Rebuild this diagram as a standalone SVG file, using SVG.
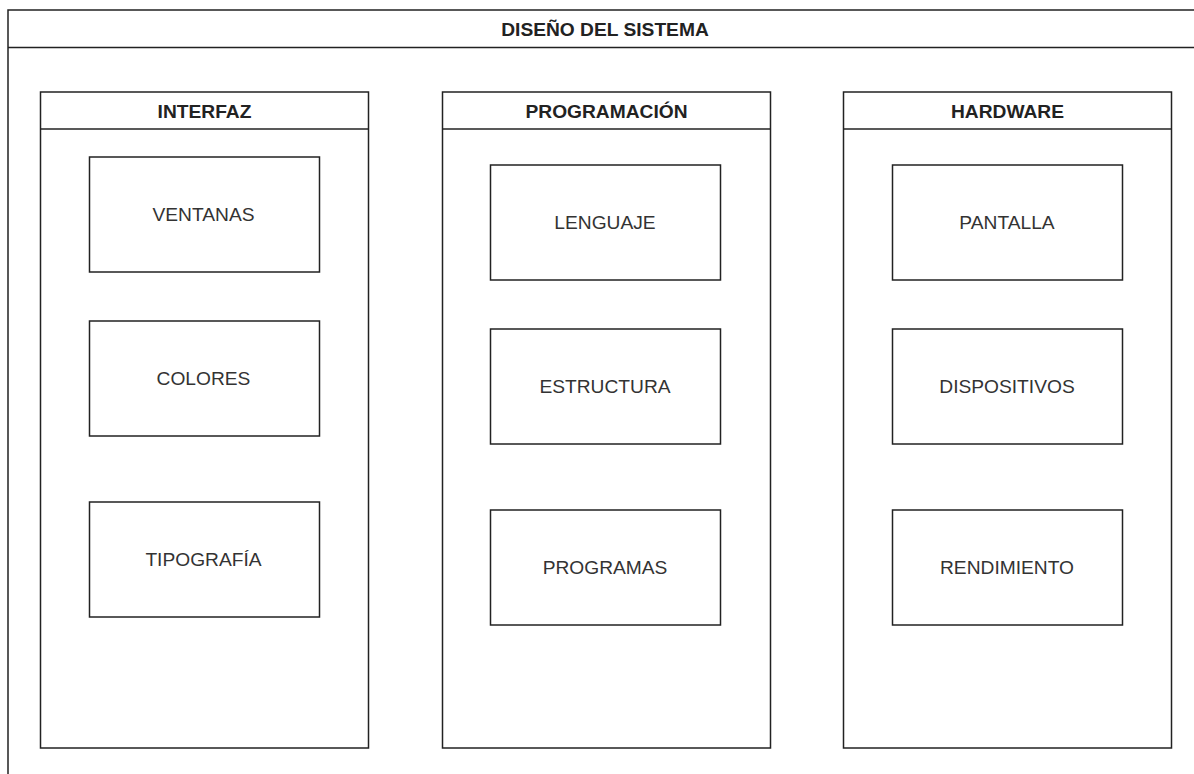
<svg xmlns="http://www.w3.org/2000/svg" width="1194" height="774" viewBox="0 0 1194 774">
<style>
.frame{fill:#ffffff;stroke:#222222;stroke-width:1.5}
.line{stroke:#222222;stroke-width:1.5;fill:none}
.box{fill:#ffffff;stroke:#222222;stroke-width:1.5}
.title{font-family:"Liberation Sans",Arial,sans-serif;font-size:19.2px;font-weight:bold;fill:#222222;text-anchor:middle}
.label{font-family:"Liberation Sans",Arial,sans-serif;font-size:19.2px;fill:#333333;text-anchor:middle}
</style>
<rect width="1194" height="774" fill="#ffffff"/>
<g id="sistema">
<rect class="frame" x="8" y="10" width="1194" height="800"/>
<line class="line" x1="8" y1="47.5" x2="1202" y2="47.5"/>
<text class="title" x="605" y="36">DISEÑO DEL SISTEMA</text>
</g>
<g id="interfaz">
<rect class="frame" x="40.5" y="92" width="328" height="656"/>
<line class="line" x1="40.5" y1="129" x2="368.5" y2="129"/>
<text class="title" x="204.5" y="117.5">INTERFAZ</text>
</g>
<g id="programacion">
<rect class="frame" x="442.5" y="92" width="328" height="656"/>
<line class="line" x1="442.5" y1="129" x2="770.5" y2="129"/>
<text class="title" x="606.5" y="117.5">PROGRAMACIÓN</text>
</g>
<g id="hardware">
<rect class="frame" x="843.5" y="92" width="328" height="656"/>
<line class="line" x1="843.5" y1="129" x2="1171.5" y2="129"/>
<text class="title" x="1007.5" y="117.5">HARDWARE</text>
</g>
<g id="ventanas">
<rect class="box" x="89.5" y="157" width="230" height="115"/>
<text class="label" x="203.5" y="220.5">VENTANAS</text>
</g>
<g id="colores">
<rect class="box" x="89.5" y="321" width="230" height="115"/>
<text class="label" x="203.5" y="384.5">COLORES</text>
</g>
<g id="tipografia">
<rect class="box" x="89.5" y="502" width="230" height="115"/>
<text class="label" x="203.5" y="565.5">TIPOGRAFÍA</text>
</g>
<g id="lenguaje">
<rect class="box" x="490.5" y="165" width="230" height="115"/>
<text class="label" x="605" y="228.5">LENGUAJE</text>
</g>
<g id="estructura">
<rect class="box" x="490.5" y="329" width="230" height="115"/>
<text class="label" x="605" y="392.5">ESTRUCTURA</text>
</g>
<g id="programas">
<rect class="box" x="490.5" y="510" width="230" height="115"/>
<text class="label" x="605" y="573.5">PROGRAMAS</text>
</g>
<g id="pantalla">
<rect class="box" x="892.5" y="165" width="230" height="115"/>
<text class="label" x="1007" y="228.5">PANTALLA</text>
</g>
<g id="dispositivos">
<rect class="box" x="892.5" y="329" width="230" height="115"/>
<text class="label" x="1007" y="392.5">DISPOSITIVOS</text>
</g>
<g id="rendimiento">
<rect class="box" x="892.5" y="510" width="230" height="115"/>
<text class="label" x="1007" y="573.5">RENDIMIENTO</text>
</g>
<g id="connectors"></g>
</svg>
